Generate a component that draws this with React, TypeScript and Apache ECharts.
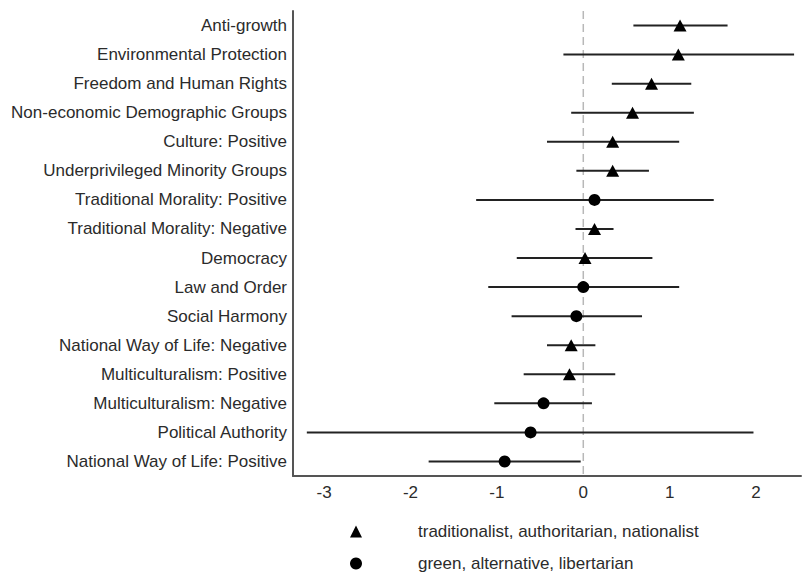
import React, { useEffect, useRef } from "react";
import * as echarts from "echarts";

const categories = [
  "Anti-growth",
  "Environmental Protection",
  "Freedom and Human Rights",
  "Non-economic Demographic Groups",
  "Culture: Positive",
  "Underprivileged Minority Groups",
  "Traditional Morality: Positive",
  "Traditional Morality: Negative",
  "Democracy",
  "Law and Order",
  "Social Harmony",
  "National Way of Life: Negative",
  "Multiculturalism: Positive",
  "Multiculturalism: Negative",
  "Political Authority",
  "National Way of Life: Positive",
];
const estimates = [1.12, 1.1, 0.79, 0.57, 0.34, 0.34, 0.13, 0.13, 0.02, 0.0, -0.08, -0.14, -0.16, -0.46, -0.61, -0.91];
const lower = [0.58, -0.23, 0.33, -0.14, -0.42, -0.08, -1.24, -0.09, -0.77, -1.1, -0.83, -0.42, -0.69, -1.03, -3.2, -1.79];
const upper = [1.67, 2.44, 1.25, 1.28, 1.11, 0.76, 1.51, 0.35, 0.8, 1.11, 0.68, 0.14, 0.37, 0.1, 1.97, -0.03];
const groups = ["TAN", "TAN", "TAN", "TAN", "TAN", "TAN", "GAL", "TAN", "TAN", "GAL", "GAL", "TAN", "TAN", "GAL", "GAL", "GAL"];
const seriesNames = ["traditionalist, authoritarian, nationalist", "green, alternative, libertarian"];
const referenceLine = [0];

const FONT = "'Liberation Sans', Arial, sans-serif";

export default function App() {
  const ref = useRef<HTMLDivElement>(null);
  useEffect(() => {
    if (!ref.current) return;
    const chart = echarts.init(ref.current, null, { renderer: "svg" });
    const whiskers = categories.map((_, i) => [i, lower[i], upper[i]]);
    const tanPts = categories.map((_, i) => (groups[i] === "TAN" ? [estimates[i], i] : null)).filter(Boolean);
    const galPts = categories.map((_, i) => (groups[i] === "GAL" ? [estimates[i], i] : null)).filter(Boolean);
    chart.setOption({
      animation: false,
      backgroundColor: "#ffffff",
      grid: { left: 293, right: 0, top: 11, bottom: 96, containLabel: false },
      xAxis: {
        type: "value",
        min: -3.36,
        max: 2.52,
        axisLine: { show: true, onZero: false, lineStyle: { color: "#555", width: 2 } },
        axisTick: { show: false },
        splitLine: { show: false },
        axisLabel: {
          margin: 8,
          fontSize: 17,
          color: "#2b2b2b",
          fontFamily: FONT,
          formatter: (v: number) => (Math.abs(v - Math.round(v)) < 1e-9 ? String(Math.round(v)) : ""),
        },
      },
      yAxis: {
        type: "category",
        data: categories,
        inverse: true,
        axisLine: { show: true, onZero: false, lineStyle: { color: "#555", width: 2 } },
        axisTick: { show: false },
        splitLine: { show: false },
        axisLabel: { margin: 6, fontSize: 17, color: "#2b2b2b", fontFamily: FONT },
      },
      legend: {
        orient: "vertical",
        left: 345,
        top: 518,
        height: 60,
        itemWidth: 12,
        itemHeight: 12,
        itemGap: 15,
        symbolKeepAspect: true,
        data: seriesNames,
        itemStyle: { opacity: 1 },
        textStyle: { fontSize: 17, color: "#2b2b2b", fontFamily: FONT, padding: [0, 0, 0, 51] },
      },
      series: [
        {
          type: "custom",
          name: "zero",
          z: 1,
          silent: true,
          data: referenceLine.map((v) => [v]),
          encode: { x: 0 },
          renderItem: (params: any, api: any) => {
            const cs = params.coordSys;
            const x = api.coord([api.value(0), 0])[0];
            return {
              type: "line",
              shape: { x1: x, y1: cs.y, x2: x, y2: cs.y + cs.height },
              style: { stroke: "#b8b8b8", lineWidth: 1.5, lineDash: [8, 5] },
            };
          },
        },
        {
          type: "custom",
          name: "ci",
          z: 2,
          data: whiskers,
          encode: { x: [1, 2], y: 0 },
          renderItem: (params: any, api: any) => {
            const p1 = api.coord([api.value(1), api.value(0)]);
            const p2 = api.coord([api.value(2), api.value(0)]);
            return {
              type: "line",
              shape: { x1: p1[0], y1: p1[1], x2: p2[0], y2: p2[1] },
              style: { stroke: "#222", lineWidth: 2 },
            };
          },
        },
        {
          type: "scatter",
          name: seriesNames[0],
          z: 3,
          symbol: "triangle",
          symbolSize: [13, 12],
          itemStyle: { color: "#000", opacity: 1 },
          data: tanPts,
        },
        {
          type: "scatter",
          name: seriesNames[1],
          z: 3,
          symbol: "circle",
          symbolSize: 12,
          itemStyle: { color: "#000", opacity: 1 },
          data: galPts,
        },
      ],
    });
    return () => chart.dispose();
  }, []);
  return <div ref={ref} style={{ width: 804, height: 572, position: "absolute", left: 0, top: 0 }} />;
}
